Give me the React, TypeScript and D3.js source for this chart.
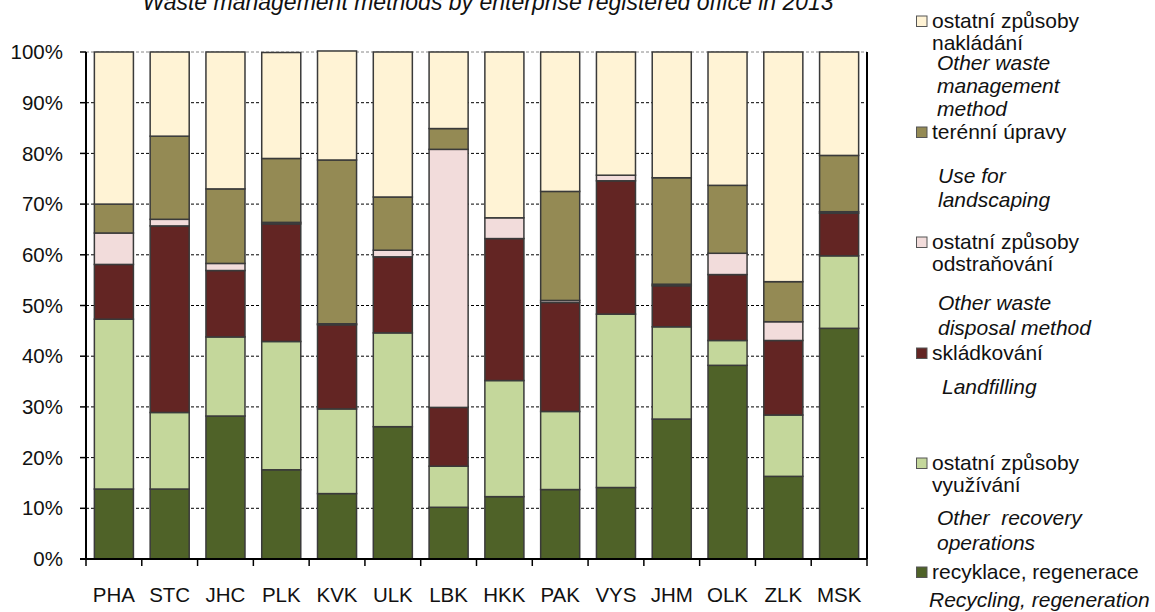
import React from "react";
import { scaleBand, scaleLinear, stack } from "d3";

const regions = ["PHA", "STC", "JHC", "PLK", "KVK", "ULK", "LBK", "HKK", "PAK", "VYS", "JHM", "OLK", "ZLK", "MSK"];

// shares in %, bottom to top
const recycling = [13.8, 13.8, 28.2, 17.6, 12.9, 26.1, 10.2, 12.3, 13.7, 14.1, 27.6, 38.2, 16.3, 45.5];
const otherRecovery = [33.5, 15.1, 15.6, 25.3, 16.7, 18.5, 8.1, 22.9, 15.4, 34.2, 18.2, 4.9, 12.1, 14.3];
const landfilling = [10.8, 36.8, 13.1, 23.2, 16.6, 15.0, 11.6, 28.0, 21.5, 26.3, 8.1, 13.0, 14.7, 8.4];
const otherDisposal = [6.2, 1.3, 1.4, 0.3, 0.2, 1.3, 50.9, 4.1, 0.4, 1.1, 0.3, 4.2, 3.7, 0.3];
const landscaping = [5.7, 16.4, 14.7, 12.6, 32.3, 10.5, 4.1, 0, 21.5, 0, 21.0, 13.4, 7.9, 11.1];
const otherManagement = [30.0, 16.6, 27.0, 20.9, 21.5, 28.6, 15.1, 32.7, 27.5, 24.3, 24.8, 26.3, 45.3, 20.4];

const yTicks = [0, 10, 20, 30, 40, 50, 60, 70, 80, 90, 100];

const seriesKeys = ["recycling", "otherRecovery", "landfilling", "otherDisposal", "landscaping", "otherManagement"];
const colors: Record<string, string> = {
  recycling: "#4f6228",
  otherRecovery: "#c4d79b",
  landfilling: "#632523",
  otherDisposal: "#f2dcdb",
  landscaping: "#948a54",
  otherManagement: "#fff3d5",
};

const title = "Waste management methods by enterprise registered office in 2013";

// legend, top to bottom: czech lines, english (italic) lines
const legendItems = [
  { key: "otherManagement", cz: ["ostatní způsoby", "nakládání"], en: ["Other waste", "management", "method"] },
  { key: "landscaping", cz: ["terénní úpravy"], en: ["Use for", "landscaping"] },
  { key: "otherDisposal", cz: ["ostatní způsoby", "odstraňování"], en: ["Other waste", "disposal method"] },
  { key: "landfilling", cz: ["skládkování"], en: ["Landfilling"] },
  { key: "otherRecovery", cz: ["ostatní způsoby", "využívání"], en: ["Other  recovery", "operations"] },
  { key: "recycling", cz: ["recyklace, regenerace"], en: ["Recycling, regeneration"] },
];
// y of first czech line / first english line, x of english lines
const legendLayout = [
  { y: 21, enY: 63, enX: 937, gap: 23 },
  { y: 132, enY: 176, enX: 938, gap: 24 },
  { y: 242, enY: 303, enX: 938, gap: 25 },
  { y: 353, enY: 387, enX: 942, gap: 24 },
  { y: 463, enY: 518, enX: 937, gap: 25 },
  { y: 572, enY: 600, enX: 929, gap: 24 },
];

const width = 1155;
const height = 612;
const margin = { top: 52, left: 86, right: 288, bottom: 53 };
const innerWidth = width - margin.left - margin.right;
const innerHeight = height - margin.top - margin.bottom;
const font = "'Liberation Sans', Arial, sans-serif";

export default function App() {
  const rows = regions.map((r, i) => ({
    region: r,
    recycling: recycling[i],
    otherRecovery: otherRecovery[i],
    landfilling: landfilling[i],
    otherDisposal: otherDisposal[i],
    landscaping: landscaping[i],
    otherManagement: otherManagement[i],
  }));
  const layers = stack<any>().keys(seriesKeys)(rows);

  const x = scaleBand().domain(regions).range([0, innerWidth]).paddingInner(0.3).paddingOuter(0.15);
  const y = scaleLinear().domain([0, 100]).range([innerHeight, 0]);
  const step = x.step();

  return (
    <svg width={width} height={height} style={{ position: "absolute", left: 0, top: 0, fontFamily: font }}>
      <rect width={width} height={height} fill="#fff" />
      <text x={488} y={10} textAnchor="middle" fontStyle="italic" fontSize={23} fill="#111">
        {title}
      </text>
      <g transform={`translate(${margin.left},${margin.top})`}>
        {yTicks.map((t) => (
          <g key={t} transform={`translate(0,${y(t)})`}>
            {t > 0 && (
              <line x2={innerWidth} stroke={t === 100 ? "#888" : "#000"} strokeWidth={1} strokeDasharray="3,2" />
            )}
            <line x1={-6} x2={0} stroke="#000" strokeWidth={1.5} />
            <text x={-23} dy="0.35em" textAnchor="end" fontSize={20.5} fill="#111">
              {t}%
            </text>
          </g>
        ))}
        {layers.map((layer) => (
          <g key={layer.key} fill={colors[layer.key]} stroke="#3a3a3a" strokeWidth={1.5}>
            {layer.map((d, i) =>
              d[1] - d[0] > 0 ? (
                <rect
                  key={i}
                  x={x(regions[i])}
                  y={y(d[1])}
                  width={x.bandwidth()}
                  height={y(d[0]) - y(d[1])}
                />
              ) : null
            )}
          </g>
        ))}
        <line y1={0} y2={innerHeight} stroke="#000" strokeWidth={2} />
        <line x1={innerWidth} x2={innerWidth} y1={0} y2={innerHeight} stroke="#000" strokeWidth={2} />
        <line x1={-6} x2={innerWidth} y1={innerHeight} y2={innerHeight} stroke="#000" strokeWidth={2} />
        {regions.map((r, i) => (
          <line key={r} x1={i * step} x2={i * step} y1={innerHeight} y2={innerHeight + 7} stroke="#000" strokeWidth={1.5} />
        ))}
        <line x1={innerWidth} x2={innerWidth} y1={innerHeight} y2={innerHeight + 7} stroke="#000" strokeWidth={1.5} />
        {regions.map((r) => (
          <text
            key={r}
            x={(x(r) ?? 0) + x.bandwidth() / 2}
            y={innerHeight + 36}
            dy="0.35em"
            textAnchor="middle"
            fontSize={20.5}
            fill="#111"
          >
            {r}
          </text>
        ))}
      </g>
      <g fontSize={21} fill="#111">
        {legendItems.map((item, i) => {
          const l = legendLayout[i];
          return (
            <g key={item.key}>
              <rect x={916.5} y={l.y - 5} width={10.5} height={10.5} fill={colors[item.key]} stroke="#555" strokeWidth={1} />
              {item.cz.map((s, j) => (
                <text key={"cz" + j} x={932} y={l.y + j * 22} dy="0.35em">
                  {s}
                </text>
              ))}
              {item.en.map((s, j) => (
                <text key={"en" + j} x={l.enX} y={l.enY + j * l.gap} dy="0.35em" fontStyle="italic" style={{ whiteSpace: "pre" }}>
                  {s}
                </text>
              ))}
            </g>
          );
        })}
      </g>
    </svg>
  );
}
